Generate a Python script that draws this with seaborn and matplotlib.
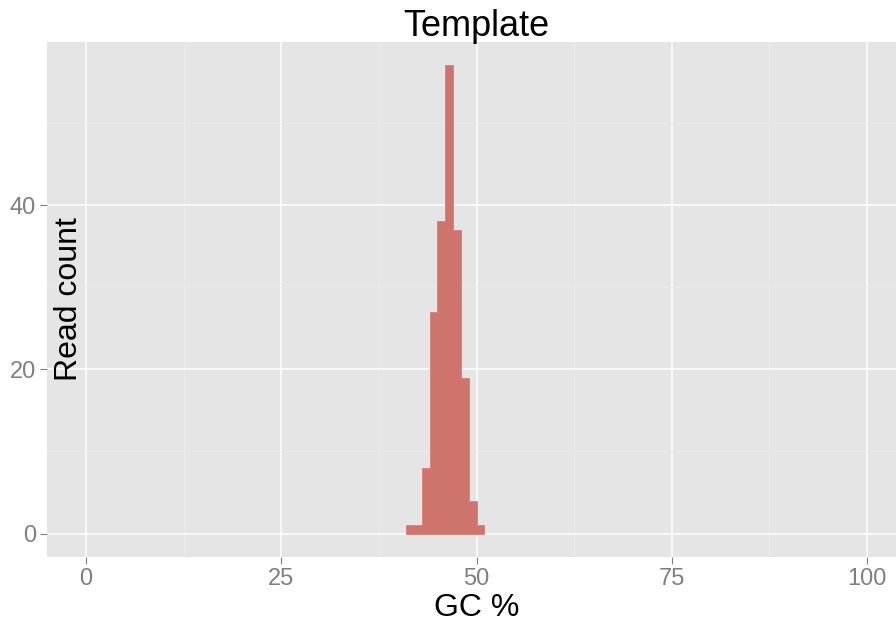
import numpy as np
import pandas as pd
import matplotlib
matplotlib.use("Agg")
import matplotlib.pyplot as plt
import seaborn as sns
from matplotlib.ticker import MultipleLocator

# Data
gc_bin_left = [41, 42, 43, 44, 45, 46, 47, 48, 49, 50]
read_counts = [1, 1, 8, 27, 38, 57, 37, 19, 4, 1]
x_ticks = [0, 25, 50, 75, 100]
y_ticks = [0, 20, 40]
title = "Template"
x_label = "GC %"
y_label = "Read count"

df = pd.DataFrame({"gc": [b + 0.5 for b in gc_bin_left], "count": read_counts})
edges = gc_bin_left + [gc_bin_left[-1] + 1]

sns.set_theme(style="darkgrid")
plt.rcParams["font.family"] = ["Liberation Sans", "DejaVu Sans"]

fig = plt.figure(figsize=(8.96, 6.28), dpi=100)
ax = fig.add_axes([47 / 896, (628 - 557) / 628, (906 - 47) / 896, (557 - 42) / 628])
ax.set_facecolor("#E5E5E5")

sns.histplot(data=df, x="gc", weights="count", bins=edges, ax=ax, element="step",
             color="#CF746D", edgecolor="#DA837C", linewidth=0.7, alpha=1.0)

ax.set_xlim(-5, 105)
ax.set_ylim(-2.85, 59.85)
ax.set_xticks(x_ticks)
ax.set_yticks(y_ticks)
ax.xaxis.set_minor_locator(MultipleLocator(12.5))
ax.yaxis.set_minor_locator(MultipleLocator(10))
ax.grid(which="major", color="white", linewidth=1.1)
ax.grid(which="minor", color="#EBEBEB", linewidth=0.6)
ax.set_axisbelow(True)
for s in ax.spines.values():
    s.set_visible(False)

ax.tick_params(axis="both", which="major", labelsize=17, labelcolor="#7F7F7F",
               color="#7F7F7F", length=5, width=0.8, pad=3, bottom=True, left=True)
ax.tick_params(axis="both", which="minor", length=0)

ax.set_title(title, fontsize=26, pad=4, color="black")
ax.set_xlabel(x_label, fontsize=23, color="black", labelpad=2)
ax.set_ylabel(y_label, fontsize=23, color="black")
ax.yaxis.set_label_coords((84 - 47) / (906 - 47), 0.5)

fig.savefig("out.png", dpi=100)
